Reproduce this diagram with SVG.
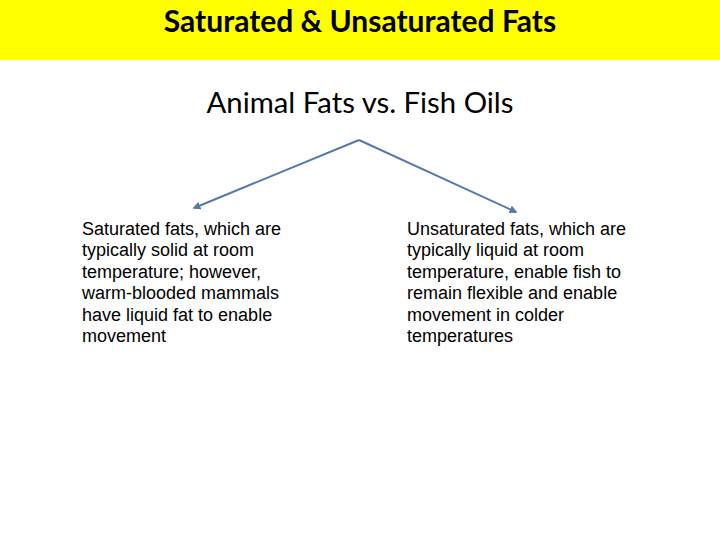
<svg xmlns="http://www.w3.org/2000/svg" width="720" height="540" viewBox="0 0 720 540">
<defs>
<style>
.title{font-family:Lato,"Open Sans","Liberation Sans",sans-serif;font-weight:bold;font-size:30px;fill:#000}
.sub{font-family:Lato,"Open Sans","Liberation Sans",sans-serif;font-size:29.3px;fill:#000}
.body{font-family:"Liberation Sans",Arial,sans-serif;font-size:18px;fill:#000}
.conn{stroke:#5479a8;stroke-width:2;fill:none}
</style>
<marker id="ah" viewBox="0 0 10 10" refX="8" refY="5" markerWidth="4" markerHeight="4" orient="auto">
<path d="M0,0 L10,5 L0,10 z" fill="#5479a8"/>
</marker>
</defs>
<rect x="0" y="0" width="720" height="540" fill="#fff"/>
<g id="header">
<rect x="0" y="0" width="720" height="60" fill="#ffff00"/>
<text class="title" x="360" y="32" text-anchor="middle">Saturated &amp; Unsaturated Fats</text>
</g>
<g id="root">
<text class="sub" x="360" y="113" text-anchor="middle">Animal Fats vs. Fish Oils</text>
</g>
<g id="connectors">
<path class="conn" d="M359,140 L194,208" marker-end="url(#ah)"/>
<path class="conn" d="M359,140 L516,212" marker-end="url(#ah)"/>
</g>
<g id="left">
<text class="body" x="82" y="235">Saturated fats, which are</text>
<text class="body" x="82" y="256">typically solid at room</text>
<text class="body" x="82" y="278">temperature; however,</text>
<text class="body" x="82" y="299">warm-blooded mammals</text>
<text class="body" x="82" y="321">have liquid fat to enable</text>
<text class="body" x="82" y="342">movement</text>
</g>
<g id="right">
<text class="body" x="407" y="235">Unsaturated fats, which are</text>
<text class="body" x="407" y="256">typically liquid at room</text>
<text class="body" x="407" y="278">temperature, enable fish to</text>
<text class="body" x="407" y="299">remain flexible and enable</text>
<text class="body" x="407" y="321">movement in colder</text>
<text class="body" x="407" y="342">temperatures</text>
</g>
</svg>
